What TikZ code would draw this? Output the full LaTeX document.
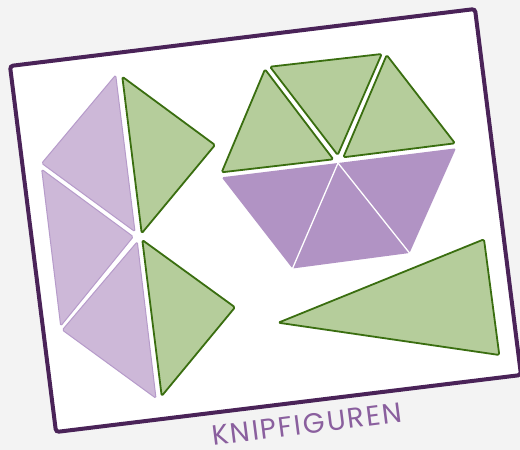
\documentclass[tikz,border=0pt]{standalone}
\usepackage{fontspec}
\setmainfont{Poppins}
\newfontfamily\titlefont[LetterSpace=7]{Poppins}
\definecolor{bgc}{HTML}{F3F3F3}
\definecolor{cardline}{HTML}{4A2358}
\definecolor{lpfill}{HTML}{CDB8D8}
\definecolor{lpline}{HTML}{B69BCA}
\definecolor{grfill}{HTML}{B5CD9B}
\definecolor{grline}{HTML}{3A6E10}
\definecolor{dpfill}{HTML}{B193C4}
\definecolor{txtc}{HTML}{8A5F9E}
\tikzset{
  cardbox/.style={fill=white, draw=cardline, line width=4pt, rounded corners=3pt},
  lptri/.style={fill=lpfill, draw=lpline, line width=1pt, rounded corners=1.5pt, line join=round},
  grtri/.style={fill=grfill, draw=grline, line width=1.8pt, rounded corners=1.5pt, line join=round},
  dptri/.style={fill=dpfill, rounded corners=1.5pt},
  sepline/.style={draw=white, line width=1.3pt},
  titletext/.style={text=txtc, font=\titlefont\fontsize{28}{28}\selectfont, rotate=7.2, inner sep=0pt}
}
\begin{document}
\begin{tikzpicture}[x=1pt,y=-1pt]
\fill[bgc] (0,0) rectangle (520,450);
\useasboundingbox (0,0) rectangle (520,450);
% card
\draw[cardbox] (10,66) -- (475,9) -- (521,375) -- (56,432) -- cycle;
% left column, light purple
\draw[lptri] (115.7,75) -- (41.7,163.3) -- (135,231.7) -- cycle;
\draw[lptri] (41.7,169.3) -- (133.3,236.7) -- (60.7,326) -- cycle;
\draw[lptri] (137.3,241.7) -- (62.3,330) -- (156,398.3) -- cycle;
% left column, green
\draw[grtri] (122.3,76.7) -- (215,145) -- (141.7,233.3) -- cycle;
\draw[grtri] (142.3,240) -- (235,307.3) -- (161.7,396) -- cycle;
% hexagon, green top half
\draw[grtri] (265,69.3) -- (221.7,172.3) -- (333.3,159.3) -- cycle;
\draw[grtri] (270,66.7) -- (381.7,54) -- (337.7,155) -- cycle;
\draw[grtri] (386.7,55) -- (455,143.3) -- (343.3,157.3) -- cycle;
% hexagon, purple bottom half
\coordinate (hc) at (338,163);
\coordinate (hbl) at (292.5,268.5);
\coordinate (hbr) at (409.5,253);
\fill[dptri] (221.7,177.3) -- (hc) -- (456,148.3) -- (hbr) -- (hbl) -- cycle;
\draw[sepline] (hc) -- (hbl);
\draw[sepline] (hc) -- (hbr);
% big green triangle
\draw[grtri] (278.3,322.7) -- (484,239.3) -- (499.3,355) -- cycle;
% title
\node[titletext] (title) at (307,424) {KNIPFIGUREN};
\end{tikzpicture}
\end{document}
